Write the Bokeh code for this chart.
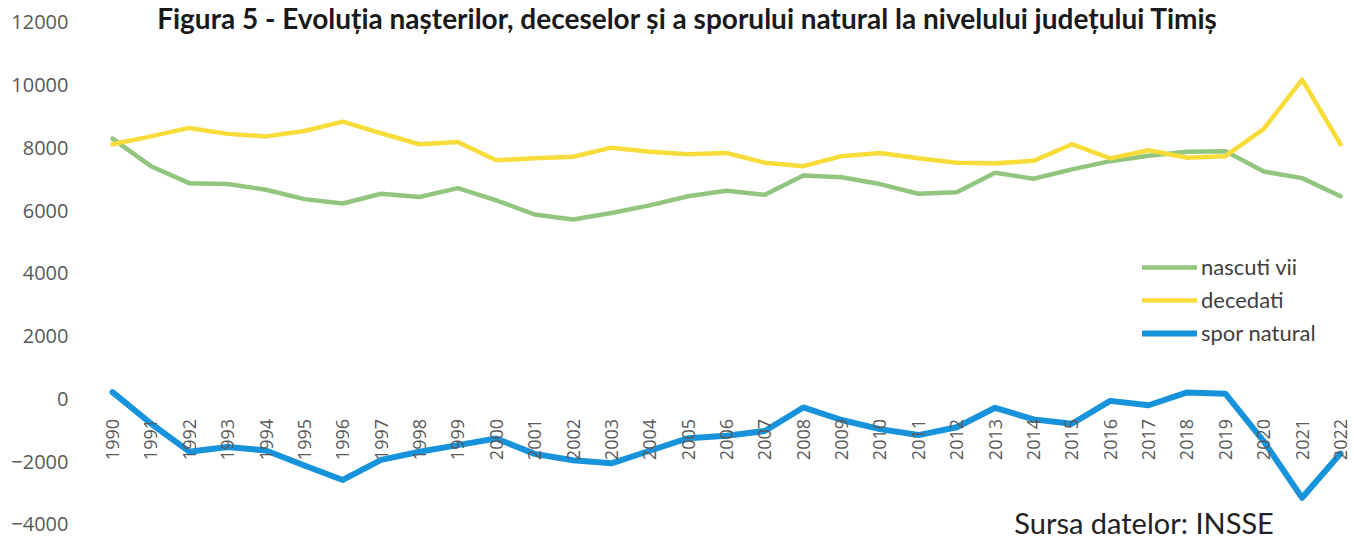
import math
from bokeh.plotting import figure
from bokeh.models import Range1d, Legend, LegendItem, FixedTicker
from bokeh.core.properties import value
from bokeh.embed import file_html
from bokeh.resources import INLINE

# ---- data ----
years = list(range(1990, 2023))
year_labels = [str(y) for y in years]
nascuti_vii = [8300, 7420, 6880, 6850, 6670, 6370, 6230, 6540, 6440, 6720, 6330,
               5880, 5720, 5930, 6170, 6460, 6640, 6510, 7120, 7070, 6850, 6540,
               6590, 7210, 7020, 7320, 7580, 7750, 7880, 7900, 7250, 7040, 6460]
decedati = [8120, 8370, 8640, 8450, 8370, 8540, 8840, 8470, 8120, 8190, 7610,
            7670, 7720, 8010, 7880, 7800, 7840, 7530, 7420, 7740, 7840, 7670,
            7530, 7510, 7590, 8120, 7670, 7930, 7690, 7740, 8610, 10180, 8120]
spor_natural = [220, -780, -1680, -1530, -1640, -2120, -2580, -1940, -1680, -1470, -1260,
                -1750, -1950, -2050, -1650, -1250, -1170, -1020, -270, -670, -960, -1150,
                -900, -280, -650, -790, -60, -200, 210, 170, -1350, -3150, -1740]
y_ticks = [-4000, -2000, 0, 2000, 4000, 6000, 8000, 10000, 12000]
series_names = ["nascuti vii", "decedati", "spor natural"]
title_text = "Figura 5 - Evoluția nașterilor, deceselor și a sporului natural la nivelului județului Timiș"
source_text = "Sursa datelor: INSSE"

colors = ["#92C67F", "#F8DC3A", "#1793DB"]
widths = [4.5, 4.5, 6]

Y0, Y1 = -4510, 12701
p = figure(width=1354, height=540, output_backend="svg", toolbar_location=None,
           x_range=Range1d(1989.166, 2022.365), y_range=Range1d(Y0, Y1),
           x_axis_location=None, min_border_left=80, min_border_right=0,
           min_border_top=0, min_border_bottom=0)
p.grid.visible = False
p.outline_line_color = None
p.background_fill_color = "white"

ax = p.yaxis[0]
ax.ticker = FixedTicker(ticks=y_ticks)
ax.axis_line_color = None
ax.major_tick_line_color = None
ax.minor_tick_line_color = None
ax.major_label_text_font = "Open Sans"
ax.major_label_text_font_size = "20px"
ax.major_label_text_color = "#595959"
ax.major_label_standoff = 6

renderers = []
for vals, c, w in zip([nascuti_vii, decedati, spor_natural], colors, widths):
    r = p.line(years, vals, line_color=c, line_width=w, line_join="round", line_cap="round")
    renderers.append(r)

legend = Legend(items=[LegendItem(label=n, renderers=[r]) for n, r in zip(series_names, renderers)],
                location=(1062, 194), glyph_width=55, glyph_height=20, label_height=26,
                spacing=6, padding=0, margin=0, label_standoff=4,
                border_line_color=None, background_fill_alpha=0,
                label_text_font="Lato", label_text_font_size="22px",
                label_text_color="#404040")
p.add_layout(legend)

# year labels placed at the zero line (category axis crossing at 0)
p.text(x=years, y=[0] * len(years), text=year_labels, angle=math.pi / 2,
       text_align="right", text_baseline="middle", y_offset=20,
       text_font=value("Open Sans"), text_font_size="18px", text_color="#595959")

# title
p.text(x=[2004.99], y=[Y1], text=[title_text], text_align="center",
       text_baseline="top", y_offset=0, text_font=value("Lato"), text_font_style="bold",
       text_font_size="28px", text_color="#1a1a1a")

# source
p.text(x=[2013.5], y=[Y0], text=[source_text], text_align="left",
       text_baseline="bottom", y_offset=-1, text_font=value("Lato"), text_font_size="29px",
       text_color="#222222")

open("out.html", "w").write(file_html(p, INLINE))
